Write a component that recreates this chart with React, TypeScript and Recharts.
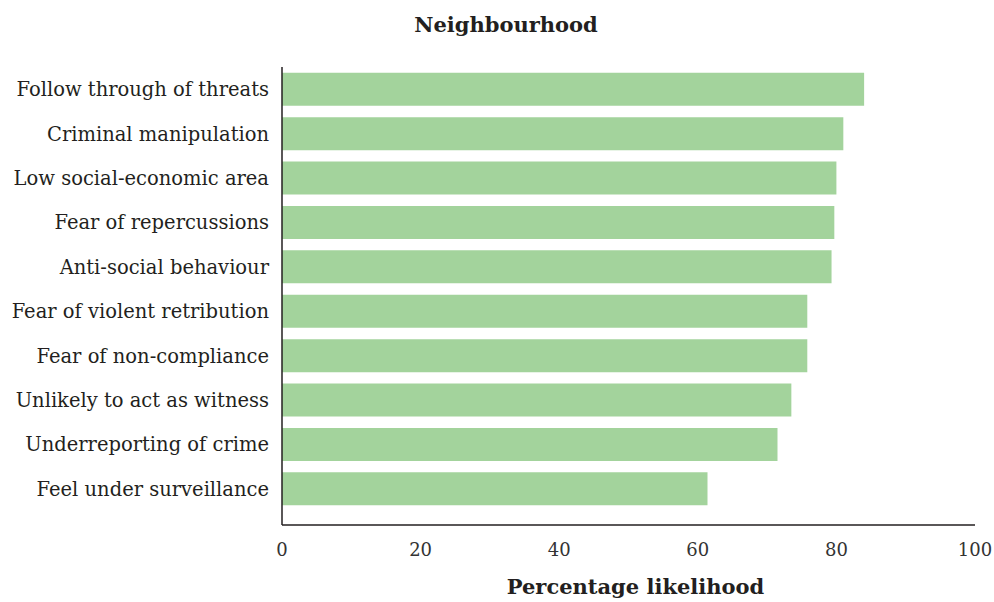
import { BarChart, Bar, XAxis, YAxis } from "recharts";

const categories = [
  "Follow through of threats",
  "Criminal manipulation",
  "Low social-economic area",
  "Fear of repercussions",
  "Anti-social behaviour",
  "Fear of violent retribution",
  "Fear of non-compliance",
  "Unlikely to act as witness",
  "Underreporting of crime",
  "Feel under surveillance",
];

const likelihood = [84, 81, 80, 79.7, 79.3, 75.8, 75.8, 73.5, 71.5, 61.4];

const xTicks = [0, 20, 40, 60, 80, 100];

const data = categories.map((name, i) => ({ name, value: likelihood[i] }));

const FONT = "'DejaVu Serif', serif";

export default function App() {
  return (
    <div style={{ position: "absolute", left: 0, top: 0, width: 994, height: 602, background: "#fff" }}>
      <div
        style={{
          position: "absolute",
          left: 0,
          width: 1012,
          top: 12,
          textAlign: "center",
          fontFamily: FONT,
          fontWeight: "bold",
          fontSize: 21,
          color: "#231f20",
        }}
      >
        Neighbourhood
      </div>
      <BarChart
        width={994}
        height={602}
        data={data}
        layout="vertical"
        margin={{ top: 67, right: 19, bottom: 0, left: 0 }}
        barCategoryGap="13%"
      >
        <XAxis
          type="number"
          domain={[0, 100]}
          ticks={xTicks}
          height={77}
          tickLine={false}
          tickSize={0}
          tickMargin={18}
          axisLine={{ stroke: "#231f20", strokeWidth: 1.5 }}
          tick={{ fill: "#333", fontSize: 18, fontFamily: FONT }}
          label={{
            value: "Percentage likelihood",
            position: "insideBottom",
            offset: 8,
            dx: 7,
            style: { fill: "#231f20", fontSize: 21, fontWeight: "bold", fontFamily: FONT },
          }}
        />
        <YAxis
          type="category"
          dataKey="name"
          width={282}
          padding={{ top: 0, bottom: 14 }}
          tickLine={false}
          tickSize={0}
          tickMargin={13}
          axisLine={{ stroke: "#231f20", strokeWidth: 1.5 }}
          tick={{ fill: "#231f20", fontSize: 19.5, fontFamily: FONT }}
        />
        <Bar dataKey="value" fill="#a3d39c" isAnimationActive={false} />
      </BarChart>
    </div>
  );
}
